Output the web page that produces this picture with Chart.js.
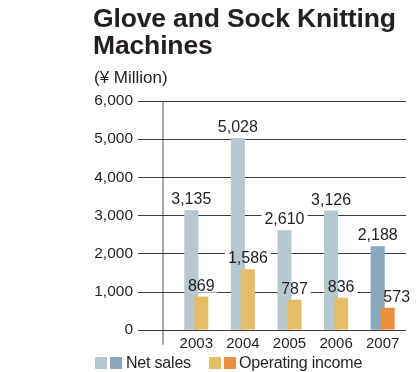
<!DOCTYPE html>
<html>
<head>
<meta charset="utf-8">
<script src="https://cdn.jsdelivr.net/npm/chart.js@4.4.0/dist/chart.umd.min.js"></script>
<style>
    html, body { margin: 0; padding: 0; background: #fff; }
    #wrap { position: relative; width: 420px; height: 372px; overflow: hidden; font-family: 'Liberation Sans', Arial, sans-serif; color: #231f20; }
    #chart { position: absolute; left: 0; top: 0; }
    .title { position: absolute; left: 93px; top: 5px; font-weight: bold; font-size: 26.5px; line-height: 27px; letter-spacing: -0.15px; }
    .unit { position: absolute; left: 94px; top: 68px; font-size: 17px; }
    .legend { position: absolute; left: 0; top: 354px; height: 18px; width: 420px; font-size: 16px; letter-spacing: -0.2px; }
    .legend .sw { position: absolute; top: 3px; width: 12px; height: 12px; }
    .legend .lbl { position: absolute; top: 0; line-height: 18px; }
</style>
</head>
<body>
<div id="wrap">
    <!-- canvas a bit taller than the window so the plot bottom lands where the original's does -->
    <canvas id="chart" width="420" height="379"></canvas>
    <div class="title">Glove and Sock Knitting<br>Machines</div>
    <div class="unit">(¥ Million)</div>
    <div class="legend">
        <span class="sw" style="left:95px;background:#b6c7cf"></span>
        <span class="sw" style="left:110px;background:#88a9bc"></span>
        <span class="lbl" style="left:126px">Net sales</span>
        <span class="sw" style="left:209px;background:#e6bd67"></span>
        <span class="sw" style="left:224px;background:#ec9040"></span>
        <span class="lbl" style="left:239px">Operating income</span>
    </div>
</div>
<script>
// Data (¥ Million)
const years = ['2003', '2004', '2005', '2006', '2007'];
const netSales = [3135, 5028, 2610, 3126, 2188];
const operatingIncome = [869, 1586, 787, 836, 573];
const yTicks = [0, 1000, 2000, 3000, 4000, 5000, 6000];

const NUM_FONT = "'Liberation Sans', Arial, sans-serif";
const lastIdx = years.length - 1;

const fmt = (v) => v.toLocaleString('en-US');

// Draws the gridlines, axis line and value labels (labels cut the gridlines but not the bars)
const barDecor = {
    id: 'barDecor',
    eachLabel(chart, fn) {
        chart.data.datasets.forEach((ds, di) => {
            const meta = chart.getDatasetMeta(di);
            meta.data.forEach((bar, i) => {
                let x = bar.x;
                // 2007 operating income label sits right of its bar in the original
                if (di === 1 && i === lastIdx) x += 9;
                fn(fmt(ds.data[i]), x, bar.y - 6);
            });
        });
    },
    beforeDatasetsDraw(chart) {
        const { ctx, chartArea, scales: { y } } = chart;
        ctx.save();
        // vertical axis line
        const ax = Math.round(chartArea.left) - 10;
        ctx.strokeStyle = '#8c8c8c';
        ctx.lineWidth = 1.5;
        ctx.beginPath();
        ctx.moveTo(ax, chartArea.top);
        ctx.lineTo(ax, chartArea.bottom + 15);
        ctx.stroke();
        // gridlines
        ctx.strokeStyle = '#3c3c3c';
        ctx.lineWidth = 1;
        yTicks.forEach(v => {
            const py = Math.round(y.getPixelForValue(v)) + 0.5;
            ctx.beginPath();
            ctx.moveTo(chartArea.left - 35, py);
            ctx.lineTo(chartArea.right, py);
            ctx.stroke();
        });
        // white gaps behind the labels
        ctx.font = '16px ' + NUM_FONT;
        ctx.fillStyle = '#fff';
        this.eachLabel(chart, (txt, x, yb) => {
            const w = ctx.measureText(txt).width;
            ctx.fillRect(x - w / 2 - 3, yb - 14, w + 6, 16);
        });
        ctx.restore();
        // draw net sales first so operating income overlaps it
        chart.getDatasetMeta(0).controller.draw();
    },
    beforeDatasetDraw(chart, args) {
        if (args.index === 0) return false;
    },
    afterDatasetsDraw(chart) {
        const { ctx } = chart;
        ctx.save();
        ctx.font = '16px ' + NUM_FONT;
        ctx.fillStyle = '#231f20';
        ctx.textAlign = 'center';
        ctx.textBaseline = 'alphabetic';
        this.eachLabel(chart, (txt, x, yb) => ctx.fillText(txt, x, yb));
        ctx.restore();
    }
};

const ctx = document.getElementById('chart').getContext('2d');
new Chart(ctx, {
    type: 'bar',
    data: {
        labels: years,
        datasets: [{
            label: 'Net sales',
            data: netSales,
            backgroundColor: (c) => c.dataIndex === lastIdx ? '#88a9bc' : '#b6c7cf',
            categoryPercentage: 0.43,
            barPercentage: 1.4
        }, {
            label: 'Operating income',
            data: operatingIncome,
            backgroundColor: (c) => c.dataIndex === lastIdx ? '#ec9040' : '#e6bd67',
            categoryPercentage: 0.43,
            barPercentage: 1.4
        }]
    },
    options: {
        responsive: false,
        animation: false,
        layout: {
            padding: { top: 101, right: 14, bottom: 0, left: 0 }
        },
        plugins: {
            legend: { display: false },
            tooltip: { enabled: false },
            title: { display: false }
        },
        scales: {
            x: {
                grid: { display: false, drawTicks: false },
                border: { display: false },
                ticks: {
                    color: '#231f20',
                    padding: 5,
                    font: { family: NUM_FONT, size: 15 }
                },
                afterFit: (s) => { s.height = 32; }
            },
            y: {
                min: 0,
                max: 6000,
                grid: { display: false, drawTicks: false },
                border: { display: false },
                ticks: {
                    stepSize: 1000,
                    color: '#231f20',
                    padding: 40,
                    font: { family: NUM_FONT, size: 15.5 },
                    callback: (v) => fmt(v)
                },
                afterFit: (s) => { s.width = 173; }
            }
        }
    },
    plugins: [barDecor]
});
</script>
</body>
</html>
